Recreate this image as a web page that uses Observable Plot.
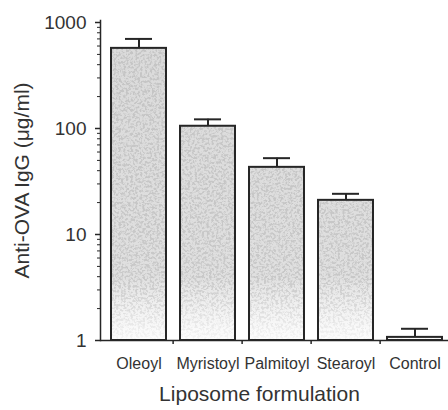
<!DOCTYPE html>
<html>
<head>
<meta charset="utf-8">
<script src="https://cdn.jsdelivr.net/npm/d3@7"></script>
<script src="https://cdn.jsdelivr.net/npm/@observablehq/plot@0.6"></script>
<style>
  html, body { margin: 0; padding: 0; background: #fff; }
  #chart { width: 448px; height: 410px; }
</style>
</head>
<body>
<div id="chart"></div>
<script>
// ---- data ----
const categories = ["Oleoyl", "Myristoyl", "Palmitoyl", "Stearoyl", "Control"];
const means      = [570, 105, 43, 21, 1.07];
const upperError = [700, 122, 52.5, 24.2, 1.29];
const majorTicks = [1, 10, 100, 1000];
const minorTicks = [2, 3, 4, 5, 6, 7, 8, 9,
                    20, 30, 40, 50, 60, 70, 80, 90,
                    200, 300, 400, 500, 600, 700, 800, 900];
const baseline = 1;
const yTitle = "Anti-OVA IgG (\u03bcg/ml)";
const xTitle = "Liposome formulation";

const table = categories.map((c, i) => ({cat: c, mean: means[i], upper: upperError[i]}));

const ink = "#262626";
const step = (450.4 - 101.6) / categories.length;

const svg = Plot.plot({
  width: 448,
  height: 410,
  marginLeft: 100,
  marginRight: 0,
  marginTop: 20,
  marginBottom: 70,
  style: {fontFamily: "'Liberation Sans', Arial, Helvetica, sans-serif", color: "#333", background: "#fff", overflow: "visible"},
  x: {type: "band", domain: categories, range: [101.6, 450.4], paddingInner: 0.21, paddingOuter: 0.105, axis: null},
  y: {type: "log", domain: [1, 1000], range: [340, 22], axis: null},
  marks: [
    Plot.barY(table, {x: "cat", y1: baseline, y2: "mean", fill: "url(#barfill)", ariaLabel: "bar-fill"}),
    Plot.barY(table, {x: "cat", y1: baseline, y2: "mean", fill: "none", stroke: ink, strokeWidth: 2}),
    Plot.ruleX(table, {x: "cat", y1: "mean", y2: "upper", stroke: ink, strokeWidth: 2}),
    Plot.tickY(table, {x: "cat", y: "upper", stroke: ink, strokeWidth: 2, insetLeft: 14, insetRight: 14}),
    Plot.frame({anchor: "left", stroke: ink, strokeWidth: 1.5}),
    Plot.ruleY([baseline], {stroke: ink, strokeWidth: 1.5}),
    Plot.axisY({ticks: majorTicks, tickSize: 5, tickPadding: 9, fontSize: 19, label: null, tickFormat: d => String(d), stroke: ink, strokeWidth: 1.5, ariaLabel: "y-major"}),
    Plot.axisY({ticks: minorTicks, tickSize: 3, tickFormat: () => "", label: null, stroke: ink}),
    Plot.axisX({tickSize: 0, tickPadding: 17, fontSize: 16, label: null, ariaLabel: "x-labels"}),
    Plot.axisX(categories.slice(1), {tickSize: 4, dx: -step / 2, tickFormat: () => "", label: null, stroke: ink, strokeWidth: 1.5}),
    Plot.text([yTitle], {frameAnchor: "left", textAnchor: "middle", dx: -78, rotate: -90, fontSize: 21, fill: "#333"}),
    Plot.text([xTitle], {frameAnchor: "bottom", textAnchor: "middle", dx: -15, dy: 60, fontSize: 21, fill: "#333"})
  ]
});

d3.select(svg).insert("defs", ":first-child").html(`
  <linearGradient id="barfill" gradientUnits="userSpaceOnUse" x1="0" y1="22" x2="0" y2="340">
    <stop offset="0" stop-color="#d8d8d8" stop-opacity="0.95"/>
    <stop offset="0.8" stop-color="#dadada" stop-opacity="0.85"/>
    <stop offset="1" stop-color="#eaeaea" stop-opacity="0.12"/>
  </linearGradient>
  <filter id="speckle" x="0" y="0" width="1" height="1">
    <feTurbulence type="fractalNoise" baseFrequency="0.42" numOctaves="3" seed="11" result="noise"/>
    <feColorMatrix in="noise" type="matrix" values="0 0 0 0 0.55  0 0 0 0 0.55  0 0 0 0 0.55  5 0 0 0 -2.2" result="dots"/>
    <feComposite in="dots" in2="SourceAlpha" operator="in" result="clipped"/>
    <feMerge><feMergeNode in="SourceGraphic"/><feMergeNode in="clipped"/></feMerge>
  </filter>`);
const root = d3.select(svg);
root.selectAll('[fill="url(#barfill)"] rect, g[aria-label="bar-fill"] rect').attr("filter", "url(#speckle)");
root.selectAll("text").each(function() {
  const t = d3.select(this);
  const txt = t.text();
  if (majorTicks.map(String).includes(txt)) t.style("font-size", "19px");
  if (categories.includes(txt)) t.style("font-size", "16px");
});

document.getElementById("chart").appendChild(svg);
</script>
</body>
</html>
